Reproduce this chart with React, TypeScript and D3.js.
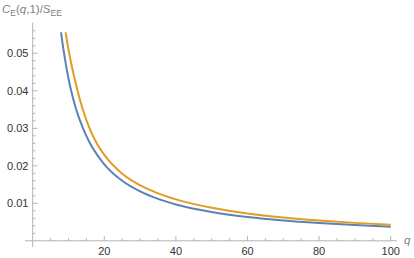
import React from "react";
import * as d3 from "d3";

const blueQ = [7.8, 8, 9, 10, 11, 12, 14, 16, 18, 20, 25, 30, 35, 40, 50, 60, 70, 80, 90, 100];
const blueV = [0.0565, 0.055, 0.04856, 0.0432, 0.039, 0.0355, 0.0301, 0.026, 0.0229, 0.0204, 0.016, 0.01317, 0.01117, 0.0097, 0.00768, 0.00635, 0.00541, 0.00473, 0.00419, 0.00376];
const orangeQ = [9, 10, 11, 12, 14, 16, 18, 20, 25, 30, 35, 40, 50, 60, 70, 80, 90, 100];
const orangeV = [0.0569, 0.051, 0.0462, 0.0421, 0.035, 0.0297, 0.0258, 0.0229, 0.0179, 0.01483, 0.01266, 0.01105, 0.0088, 0.00728, 0.0062, 0.0054, 0.00478, 0.00429];

const xMajor = [20, 40, 60, 80, 100];
const yMajor = [0.01, 0.02, 0.03, 0.04, 0.05];
const yMajorLabels = ["0.01", "0.02", "0.03", "0.04", "0.05"];

export default function App() {
  const W = 414, H = 258;
  const x = d3.scaleLinear().domain([0, 100]).range([32.7, 390.7]);
  const y = d3.scaleLinear().domain([0, 0.05]).range([240.8, 53.3]);
  const clipTop = y(0.0556);

  const xMinor = d3.range(5, 101, 5).filter((v) => v % 20 !== 0);
  const yMinor = d3.range(1, 29).map((i) => i * 0.002).filter((v) => Math.abs(v * 100 - Math.round(v * 100)) > 1e-6);

  const line = d3
    .line<[number, number]>()
    .x((d) => x(d[0]))
    .y((d) => y(d[1]))
    .curve(d3.curveMonotoneX);

  const blueData = blueQ.map((q, i) => [q, blueV[i]] as [number, number]);
  const orangeData = orangeQ.map((q, i) => [q, orangeV[i]] as [number, number]);

  const axisColor = "#b3b3b3";
  const font = "'Liberation Sans', Arial, sans-serif";

  return (
    <div style={{ position: "absolute", left: 0, top: 0 }}>
      <svg width={W} height={H} style={{ display: "block", background: "#fff" }}>
        <defs>
          <clipPath id="plotclip">
            <rect x={x(0)} y={clipTop} width={x(100) - x(0) + 2} height={y(0) - clipTop} />
          </clipPath>
        </defs>
        {/* axes */}
        <line x1={25} x2={396.7} y1={y(0)} y2={y(0)} stroke={axisColor} strokeWidth={1} />
        <line x1={x(0)} x2={x(0)} y1={22.7} y2={247} stroke={axisColor} strokeWidth={1} />
        {xMajor.map((v) => (
          <line key={"xM" + v} x1={x(v)} x2={x(v)} y1={y(0)} y2={y(0) - 4.7} stroke={axisColor} />
        ))}
        {xMinor.map((v) => (
          <line key={"xm" + v} x1={x(v)} x2={x(v)} y1={y(0)} y2={y(0) - 2.7} stroke={axisColor} />
        ))}
        {yMajor.map((v) => (
          <line key={"yM" + v} x1={x(0)} x2={x(0) + 4.7} y1={y(v)} y2={y(v)} stroke={axisColor} />
        ))}
        {yMinor.map((v, i) => (
          <line key={"ym" + i} x1={x(0)} x2={x(0) + 2.7} y1={y(v)} y2={y(v)} stroke={axisColor} />
        ))}
        {/* tick labels */}
        {xMajor.map((v) => (
          <text key={"xl" + v} x={x(v)} y={255} textAnchor="middle" fontFamily={font} fontSize={11} fill="#333">
            {v}
          </text>
        ))}
        {yMajor.map((v, i) => (
          <text key={"yl" + v} x={28.5} y={y(v) + 4} textAnchor="end" fontFamily={font} fontSize={11} fill="#333">
            {yMajorLabels[i]}
          </text>
        ))}
        {/* axis labels */}
        <text x={2} y={13} fontFamily={font} fontSize={11.5} fill="#808080">
          <tspan fontStyle="italic">C</tspan>
          <tspan fontSize={8.5} dy={3}>E</tspan>
          <tspan dy={-3}>(</tspan>
          <tspan fontStyle="italic">q</tspan>
          <tspan>,1)/</tspan>
          <tspan fontStyle="italic">S</tspan>
          <tspan fontSize={8.5} dy={3}>EE</tspan>
        </text>
        <text x={404} y={244} fontFamily={font} fontSize={11.5} fontStyle="italic" fill="#808080">
          q
        </text>
        {/* curves */}
        <g clipPath="url(#plotclip)">
          <path d={line(blueData) || ""} fill="none" stroke="#5E81B5" strokeWidth={2} />
          <path d={line(orangeData) || ""} fill="none" stroke="#E19C24" strokeWidth={2} />
        </g>
      </svg>
    </div>
  );
}
